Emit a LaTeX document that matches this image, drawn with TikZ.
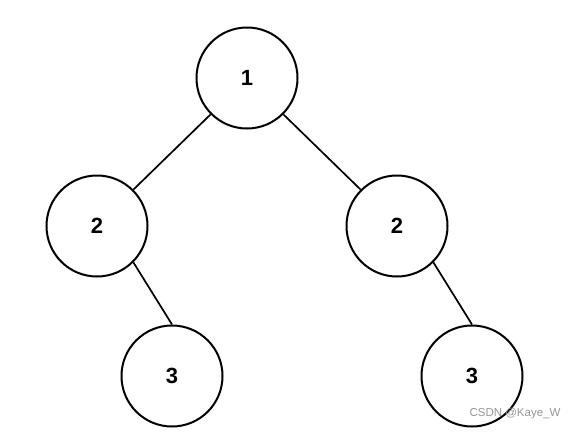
\documentclass[tikz,border=0pt]{standalone}
\usepackage{fontspec}
\setmainfont{Liberation Sans}
\usepackage{tikz}
\usetikzlibrary{positioning}
\usepackage{xcolor}
\definecolor{wmgray}{RGB}{150,150,150}

\begin{document}
\begin{tikzpicture}[x=1pt, y=-1pt,
    vertex/.style={circle, draw, line width=2pt, minimum size=101pt, inner sep=0pt,
      font=\fontsize{22}{26}\selectfont\bfseries},
    link/.style={line width=1.7pt}]
  \useasboundingbox (0,0) rectangle (573,432);
  \node[vertex] (n1) at (247,78) {1};
  \node[vertex] (n2l) at (97,226) {2};
  \node[vertex] (n2r) at (397,226) {2};
  \node[vertex] (n3l) at (172,376) {3};
  \node[vertex] (n3r) at (472,376) {3};
  \draw[link] (n1.south west) -- (n2l.north east);
  \draw[link] (n1.south east) -- (n2r.north west);
  \draw[link] (n2l.south east) -- (n3l.north);
  \draw[link] (n2r.south east) -- (n3r.north);
  % watermark
  \node[wmgray, font=\fontsize{11.5}{13}\selectfont] (mark) at (515,414) {CSDN @Kaye\_W};
\end{tikzpicture}
\end{document}
